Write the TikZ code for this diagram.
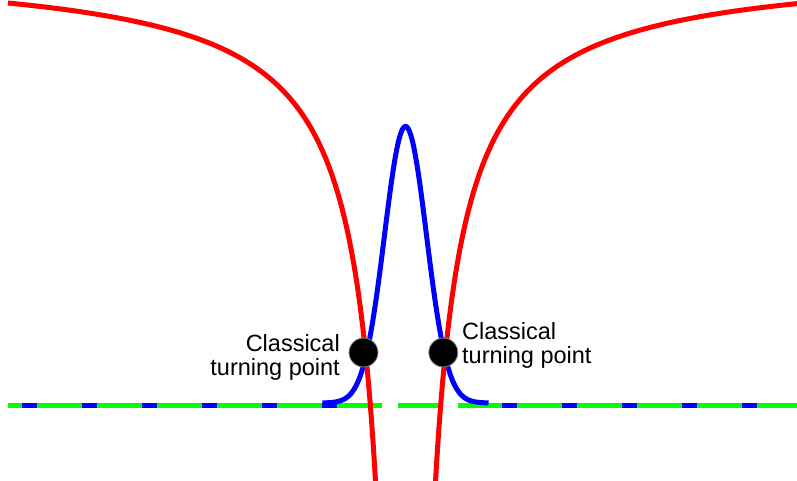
\documentclass[tikz,border=0pt]{standalone}
\usepackage{fontspec}
\setmainfont{Liberation Sans}
\begin{document}
\begin{tikzpicture}[x=1pt,y=-1pt,
  pot/.style={draw=red,line width=5pt},
  wave/.style={draw=blue,line width=5pt,line join=round},
  level/.style={draw=green,line width=5pt},
  bdash/.style={draw=blue,line width=5pt},
  tp/.style={circle,fill=black,draw=black!45,line width=0.8pt,minimum size=29pt,inner sep=0pt},
  lbl/.style={font=\fontsize{23.5}{24.5}\selectfont,inner sep=0pt}]
\useasboundingbox (0,0) rectangle (797,481);
\clip (0,0) rectangle (797,481);
% energy level
\coordinate (g1a) at (8,405.5); \coordinate (g1b) at (382,405.5);
\coordinate (g2a) at (398,405.5); \coordinate (g2b) at (443,405.5);
\coordinate (g3a) at (458,405.5); \coordinate (g3b) at (797,405.5);
\draw[level] (g1a) -- (g1b);
\draw[level] (g2a) -- (g2b);
\draw[level] (g3a) -- (g3b);
\foreach \s in {22,82,142,202,262,322,502,562,622,682,742}
  \draw[bdash] (\s,405.5) -- ++(15,0);
% wavefunction
\draw[wave] plot[domain=-83:83,samples=200,variable=\t] ({405.5+\t},{403-276.5*exp(-\t*\t/882)});
% potential
\draw[pot] plot[domain=29.5:397.5,samples=250,variable=\d] ({405.5-\d},{-36+15512/\d});
\draw[pot] plot[domain=29.5:392,samples=250,variable=\d] ({405.5+\d},{-36+15512/\d});
% turning points
\node[tp] (L) at (363.5,352.5) {};
\node[tp] (R) at (443.3,352.5) {};
\node[lbl,anchor=base east,align=right] (LT) at (340,375.5) {Classical\\turning point};
\node[lbl,anchor=base west,align=left] (RT) at (462,363.5) {Classical\\turning point};
\end{tikzpicture}
\end{document}
